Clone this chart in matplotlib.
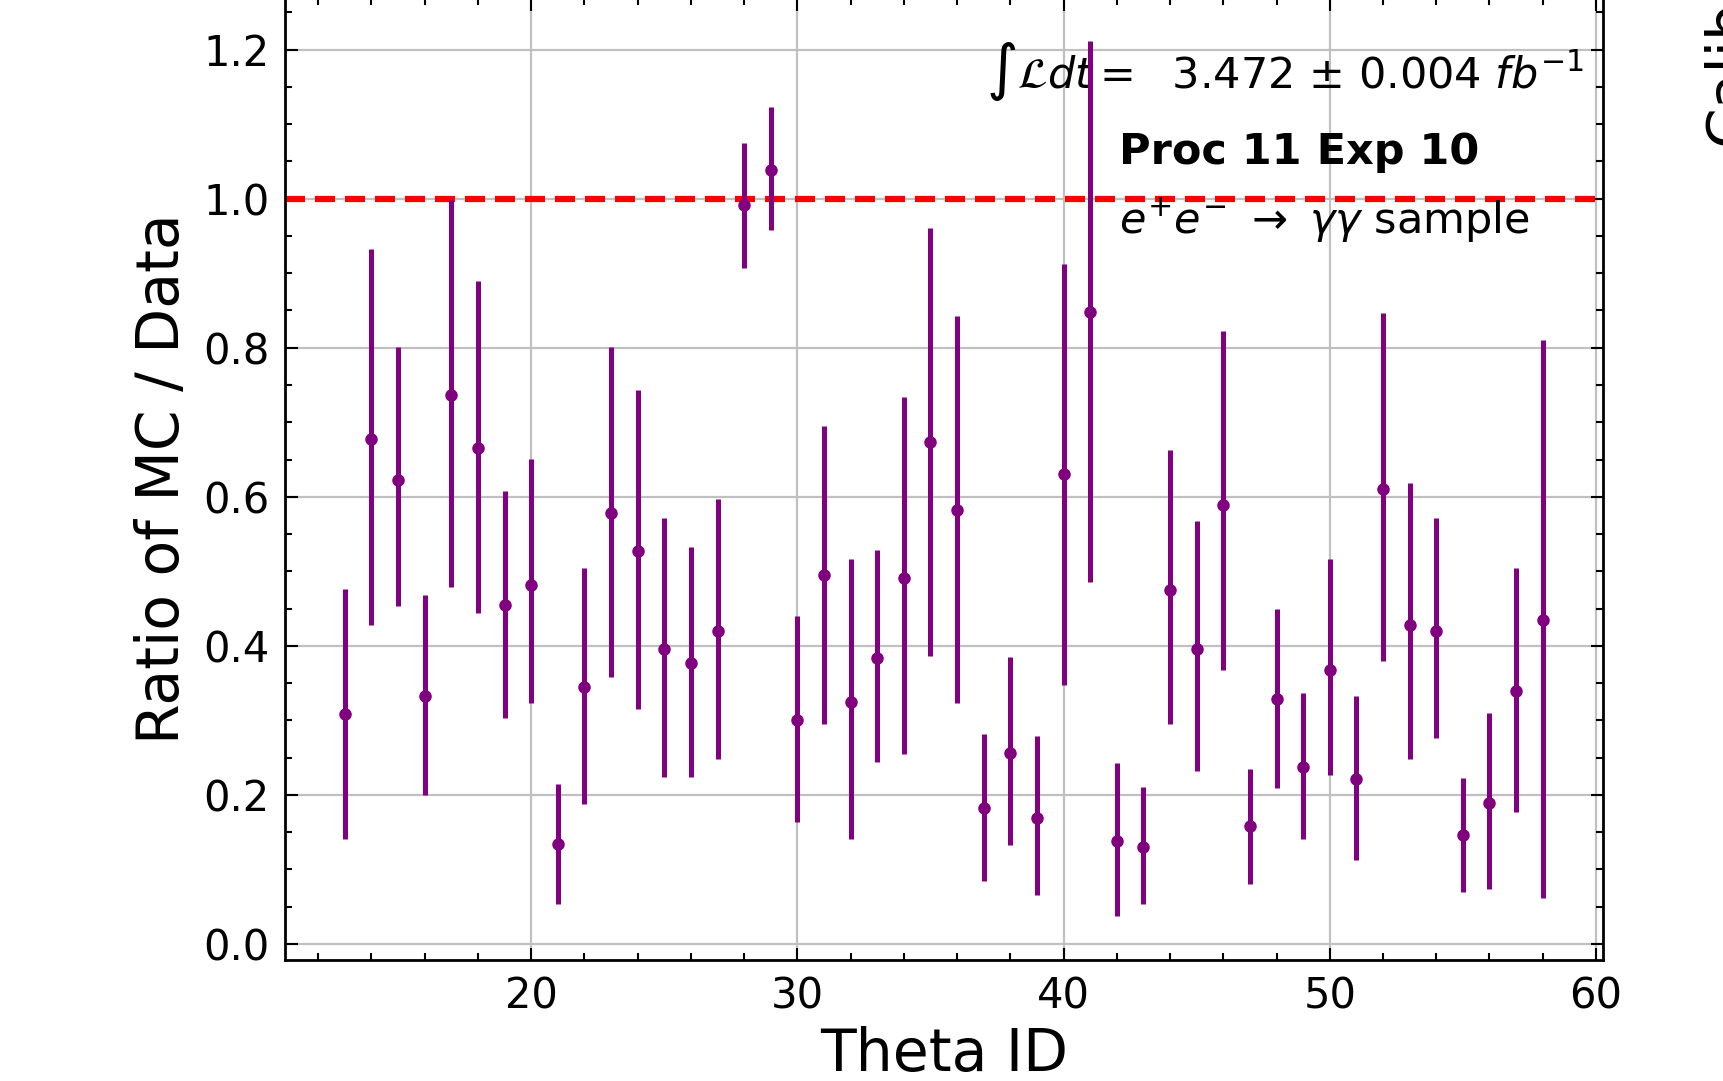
import matplotlib
matplotlib.use("Agg")
import matplotlib.pyplot as plt
from matplotlib.ticker import AutoMinorLocator

# ---- data ----
theta_id = [13, 14, 15, 16, 17, 18, 19, 20, 21, 22, 23, 24, 25, 26, 27, 28,
            29, 30, 31, 32, 33, 34, 35, 36, 37, 38, 39, 40, 41, 42, 43, 44,
            45, 46, 47, 48, 49, 50, 51, 52, 53, 54, 55, 56, 57, 58]
ratio = [0.308, 0.678, 0.622, 0.332, 0.737, 0.666, 0.455, 0.482, 0.134, 0.345,
         0.578, 0.527, 0.396, 0.377, 0.420, 0.992, 1.038, 0.301, 0.495, 0.324,
         0.384, 0.491, 0.673, 0.582, 0.182, 0.256, 0.169, 0.630, 0.848, 0.138,
         0.130, 0.475, 0.396, 0.589, 0.158, 0.328, 0.237, 0.368, 0.221, 0.610,
         0.428, 0.420, 0.146, 0.189, 0.340, 0.435]
ratio_low = [0.141, 0.428, 0.453, 0.200, 0.479, 0.444, 0.303, 0.323, 0.053, 0.188,
             0.358, 0.315, 0.224, 0.224, 0.248, 0.907, 0.958, 0.164, 0.295, 0.141,
             0.244, 0.255, 0.386, 0.323, 0.085, 0.133, 0.066, 0.347, 0.486, 0.037,
             0.053, 0.295, 0.232, 0.367, 0.081, 0.209, 0.141, 0.227, 0.113, 0.379,
             0.248, 0.276, 0.070, 0.073, 0.177, 0.061]
ratio_high = [0.476, 0.933, 0.801, 0.468, 0.998, 0.890, 0.608, 0.651, 0.214, 0.504,
              0.801, 0.743, 0.572, 0.532, 0.597, 1.075, 1.123, 0.440, 0.695, 0.516,
              0.528, 0.734, 0.961, 0.842, 0.282, 0.385, 0.279, 0.913, 1.211, 0.243,
              0.210, 0.663, 0.568, 0.822, 0.234, 0.449, 0.337, 0.516, 0.333, 0.846,
              0.618, 0.571, 0.222, 0.310, 0.504, 0.810]
reference_level = 1.0

lumi_text = r'$\int\mathcal{L}dt = $  3.472 $\pm$ 0.004 $fb^{-1}$'
proc_text = 'Proc 11 Exp 10'
sample_text = r'$e^{+}e^{-}\ \rightarrow\ \gamma\gamma$ sample'

plt.rcParams['font.family'] = ['DejaVu Sans']

fig = plt.figure(figsize=(17.24, 10.81), dpi=100)
ax = fig.add_axes([0.1653, 0.1119, 0.7643, 0.8902])

yerr = [[r - lo for r, lo in zip(ratio, ratio_low)],
        [hi - r for r, hi in zip(ratio, ratio_high)]]

ax.axhline(reference_level, color='red', linestyle=(0, (3.2, 1.6)), lw=4.5, zorder=2)
ax.errorbar(theta_id, ratio, yerr=yerr, fmt='o', color='purple', ms=8,
            elinewidth=3.6, capsize=0, zorder=4)

ax.grid(True, which='major', color='#c0c0c0', lw=1.6, zorder=0)
ax.set_axisbelow(True)

ax.xaxis.set_minor_locator(AutoMinorLocator())
ax.yaxis.set_minor_locator(AutoMinorLocator())
ax.tick_params(which='both', direction='in', top=True, right=True,
               width=1.5, labelsize=30, pad=11)
ax.tick_params(which='major', length=9)
ax.tick_params(which='minor', length=5)
for s in ax.spines.values():
    s.set_linewidth(2)

ax.set_xlabel('Theta ID', fontsize=42, labelpad=6)
ax.set_ylabel('Ratio of MC / Data', fontsize=42, labelpad=9)

ax.text(37.1, 1.149, lumi_text, fontsize=31, ha='left', va='baseline', zorder=3)
ax.text(42.07, 1.047, proc_text, fontsize=31, fontweight='bold', ha='left',
        va='baseline', zorder=3)
ax.text(42.07, 0.953, sample_text, fontsize=31, ha='left', va='baseline', zorder=3)

fig.text(0.987, 0.866, 'Calibration', fontsize=42, rotation=90,
         ha='left', va='bottom')

fig.savefig('out.png', dpi=100)
